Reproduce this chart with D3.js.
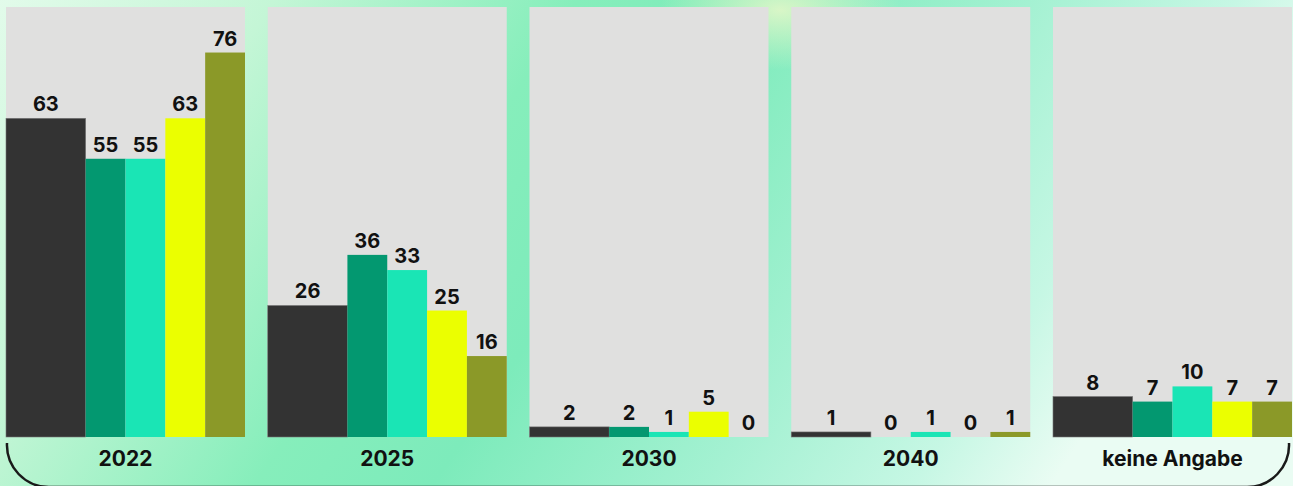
<!DOCTYPE html>
<html>
<head>
<meta charset="utf-8">
<script src="https://cdn.jsdelivr.net/npm/d3@7"></script>
<style>
  html, body { margin: 0; padding: 0; background: #fff; }
  svg { display: block; }
  text { font-family: Inter, "Noto Sans", sans-serif; font-weight: 700; fill: #111; }
</style>
</head>
<body>
<svg id="chart" width="1293" height="486"></svg>
<script>
// ---- data ----
const categories = ["2022", "2025", "2030", "2040", "keine Angabe"];
const seriesNames = ["Gesamt", "Gruppe A", "Gruppe B", "Gruppe C", "Gruppe D"];
const seriesTotal = [63, 26, 2, 1, 8];
const seriesA     = [55, 36, 2, 0, 7];
const seriesB     = [55, 33, 1, 1, 10];
const seriesC     = [63, 25, 5, 0, 7];
const seriesD     = [76, 16, 0, 1, 7];

// ---- style ----
const colors = ["#333333", "#039870", "#1ae5b5", "#ebff00", "#8b9928"];
const slotSpan = [2, 1, 1, 1, 1]; // first series is drawn double width
const W = 1293, H = 486;
const svg = d3.select("#chart");

// background gradient
const defs = svg.append("defs");
const lg = defs.append("linearGradient").attr("id", "bg").attr("x1", "0").attr("y1", "0").attr("x2", "1").attr("y2", "0.25");
[["0", "#e2fbea"], ["0.2", "#c4f6d6"], ["0.42", "#86eebb"], ["0.55", "#7debbb"], ["0.75", "#a4f1d2"], ["0.9", "#c6f7e4"], ["1", "#eafcf3"]]
  .forEach(([o, c]) => lg.append("stop").attr("offset", o).attr("stop-color", c));
svg.append("rect").attr("width", W).attr("height", H).attr("fill", "url(#bg)");
const rg = defs.append("radialGradient").attr("id", "glow").attr("cx", "0.5").attr("cy", "0.5").attr("r", "0.5");
rg.append("stop").attr("offset", "0").attr("stop-color", "#e2f7c8").attr("stop-opacity", 0.9);
rg.append("stop").attr("offset", "1").attr("stop-color", "#e2f7c8").attr("stop-opacity", 0);
svg.append("ellipse").attr("cx", 780).attr("cy", 10).attr("rx", 120).attr("ry", 60).attr("fill", "url(#glow)");

const x0 = d3.scaleBand().domain(categories).range([6, 1292]).paddingInner(0.0869).paddingOuter(0);
const y = d3.scaleLinear().domain([0, 85]).range([437, 7]);
const slots = d3.range(6);
const x1 = d3.scaleBand().domain(slots).range([0, x0.bandwidth()]).padding(0);

const allSeries = [seriesTotal, seriesA, seriesB, seriesC, seriesD];
const slotStart = [];
slotSpan.reduce((acc, s, i) => { slotStart[i] = acc; return acc + s; }, 0);

categories.forEach((cat, ci) => {
  const g = svg.append("g").attr("transform", `translate(${x0(cat)},0)`);
  g.append("rect").attr("x", 0).attr("y", y(85)).attr("width", x0.bandwidth())
    .attr("height", y(0) - y(85)).attr("fill", "#e0e0df");
  allSeries.forEach((vals, si) => {
    const v = vals[ci];
    const bx = x1(slotStart[si]);
    const bw = x1.bandwidth() * slotSpan[si];
    g.append("rect").attr("x", bx).attr("y", y(v)).attr("width", bw)
      .attr("height", y(0) - y(v)).attr("fill", colors[si])
      .attr("stroke", si === 0 ? "#777" : "none").attr("stroke-width", si === 0 ? 0.6 : 0);
    g.append("text").attr("x", bx + bw / 2).attr("y", y(v) - 7)
      .attr("text-anchor", "middle").attr("font-size", 20).text(v);
  });
  g.append("text").attr("x", x0.bandwidth() / 2).attr("y", 466)
    .attr("text-anchor", "middle").attr("font-size", 21).text(cat);
});

// bottom bracket
const r = 42, yTop = 443, yBot = 487, xl = 7, xr = 1289;
svg.append("path")
  .attr("d", `M${xl},${yTop} A${r},${r} 0 0 0 ${xl + r},${yBot} L${xr - r},${yBot} A${r},${r} 0 0 0 ${xr},${yTop}`)
  .attr("fill", "none").attr("stroke", "#1a1a1a").attr("stroke-width", 2.5);
</script>
</body>
</html>
